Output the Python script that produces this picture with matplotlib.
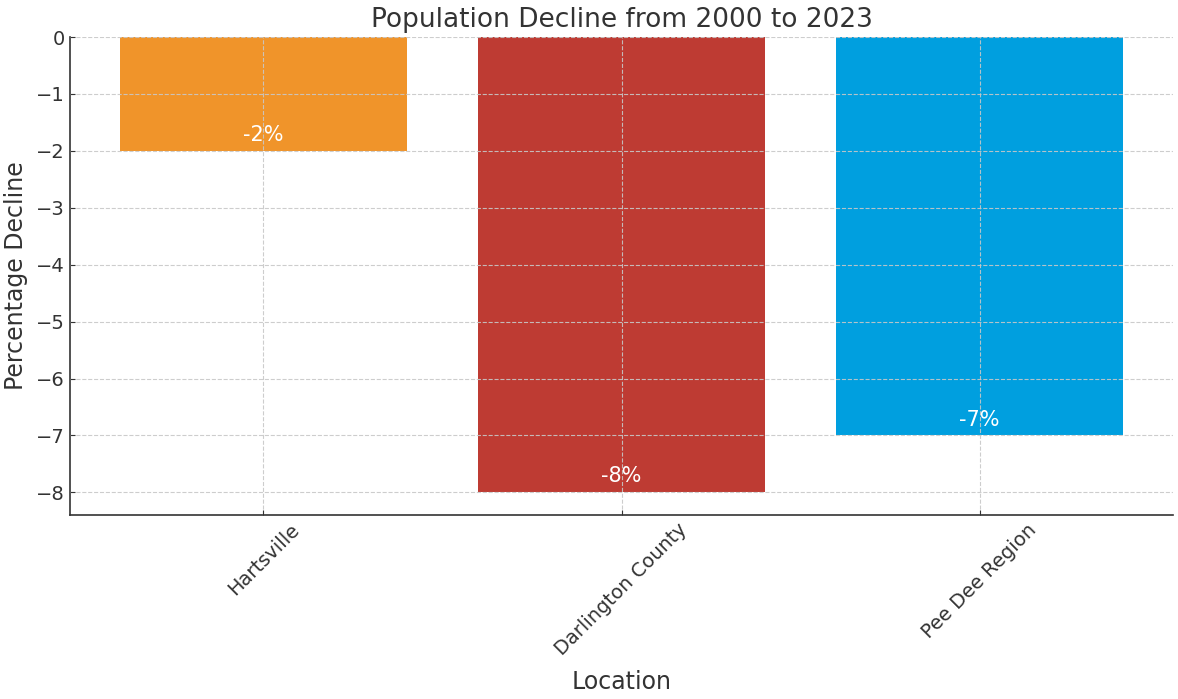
import matplotlib.pyplot as plt

# population change per area, in percent
locations = ["Hartsville", "Darlington County", "Pee Dee Region"]
decline = [-2, -8, -7]
bar_colors = ["#F0942A", "#BE3B33", "#009FDF"]

text_color = "#333333"

fig = plt.figure(figsize=(11.78, 6.99), dpi=100)
ax = fig.add_axes([0.0594, 0.263, 0.9364, 0.684])

bars = ax.bar(locations, decline, color=bar_colors, width=0.8)

# percentage labels inside the bottom of each bar
for bar, val in zip(bars, decline):
    ax.text(bar.get_x() + bar.get_width() / 2, val + 0.28, f"{val}%",
            ha="center", va="center", color="white", fontsize=15)

ax.set_title("Population Decline from 2000 to 2023", fontsize=19, color=text_color, pad=7.5)
ax.set_xlabel("Location", fontsize=17, color=text_color, labelpad=8)
ax.set_ylabel("Percentage Decline", fontsize=17, color=text_color, labelpad=6)

ax.grid(True, linestyle="--", color="#c8c8c8", linewidth=0.8, alpha=0.9)
ax.set_axisbelow(False)

ax.spines["top"].set_visible(False)
ax.spines["right"].set_visible(False)
for side in ("left", "bottom"):
    ax.spines[side].set_color(text_color)
    ax.spines[side].set_linewidth(1.2)

ax.tick_params(axis="both", direction="in", labelsize=14, colors=text_color)
plt.setp(ax.get_xticklabels(), rotation=45, ha="center")

fig.savefig("out.png", dpi=100)
